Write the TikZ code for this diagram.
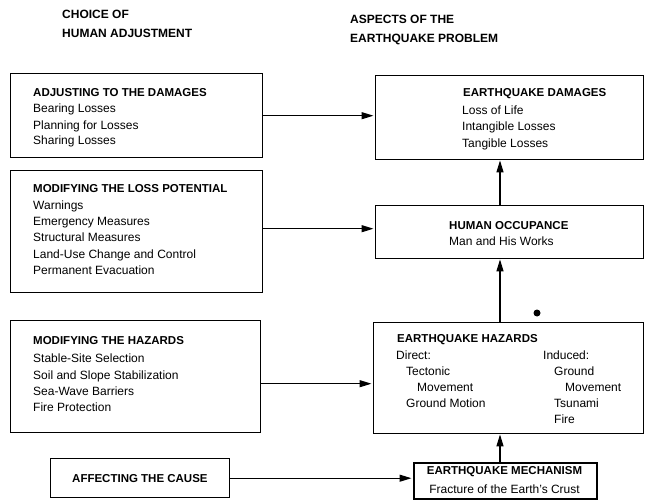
\documentclass[tikz,border=0pt]{standalone}
\usepackage{fontspec}
\setmainfont{Liberation Sans}
\usetikzlibrary{arrows.meta}
\begin{document}
\begin{tikzpicture}[x=1pt,y=-1pt,
 box/.style={draw, line width=1.4pt, anchor=north west, inner sep=0pt},
 ttl/.style={anchor=base west, inner sep=0pt, font=\fontsize{11.5}{13}\selectfont\bfseries},
 hdr/.style={anchor=base west, inner sep=0pt, font=\fontsize{12}{14}\selectfont\bfseries},
 txt/.style={anchor=base west, inner sep=0pt, font=\fontsize{12}{14}\selectfont},
 arr/.style={line width=1.2pt, -{Triangle[length=12pt,width=7pt]}, shorten >=1.5pt},
]
\useasboundingbox (0,0) rectangle (645,500);
% headers
\node[hdr] (h1) at (62,19) {CHOICE OF};
\node[hdr] (h2) at (62,38) {HUMAN ADJUSTMENT};
\node[hdr] (h3) at (350,24) {ASPECTS OF THE};
\node[hdr] (h4) at (350,43) {EARTHQUAKE PROBLEM};
% left boxes
\node[box, minimum width=252pt, minimum height=84pt] (A) at (10,73) {};
\node[ttl] (a0) at (33,97) {ADJUSTING TO THE DAMAGES};
\node[txt] (a1) at (33,113) {Bearing Losses};
\node[txt] (a2) at (33,129) {Planning for Losses};
\node[txt] (a3) at (33,145) {Sharing Losses};

\node[box, minimum width=252pt, minimum height=122pt] (B) at (10,170) {};
\node[ttl] (b0) at (33,192) {MODIFYING THE LOSS POTENTIAL};
\node[txt] (b1) at (33,209) {Warnings};
\node[txt] (b2) at (33,225) {Emergency Measures};
\node[txt] (b3) at (33,241) {Structural Measures};
\node[txt] (b4) at (33,258) {Land-Use Change and Control};
\node[txt] (b5) at (33,274) {Permanent Evacuation};

\node[box, minimum width=250pt, minimum height=112pt] (C) at (10,320) {};
\node[ttl] (c0) at (33,344) {MODIFYING THE HAZARDS};
\node[txt] (c1) at (33,362) {Stable-Site Selection};
\node[txt] (c2) at (33,379) {Soil and Slope Stabilization};
\node[txt] (c3) at (33,395) {Sea-Wave Barriers};
\node[txt] (c4) at (33,411) {Fire Protection};

\node[box, minimum width=179pt, minimum height=39pt] (D) at (50,458) {};
\node[ttl] (d0) at (72,482) {AFFECTING THE CAUSE};
% right boxes
\node[box, minimum width=268pt, minimum height=84pt] (E) at (375,75) {};
\node[ttl] (e0) at (463,97) {EARTHQUAKE DAMAGES};
\node[txt] (e1) at (462,115) {Loss of Life};
\node[txt] (e2) at (462,131) {Intangible Losses};
\node[txt] (e3) at (462,147) {Tangible Losses};

\node[box, minimum width=268pt, minimum height=53pt] (F) at (375,205) {};
\node[ttl] (f0) at (449,229) {HUMAN OCCUPANCE};
\node[txt] (f1) at (449,245) {Man and His Works};

\node[box, minimum width=270pt, minimum height=111pt] (G) at (373,322) {};
\node[ttl] (g0) at (397,342) {EARTHQUAKE HAZARDS};
\node[txt] (g1) at (396,359) {Direct:};
\node[txt] (g2) at (406,375) {Tectonic};
\node[txt] (g3) at (417,391) {Movement};
\node[txt] (g4) at (406,407) {Ground Motion};
\node[txt] (g5) at (543,359) {Induced:};
\node[txt] (g6) at (554,375) {Ground};
\node[txt] (g7) at (565,391) {Movement};
\node[txt] (g8) at (554,407) {Tsunami};
\node[txt] (g9) at (554,423) {Fire};

\node[box, line width=2pt, minimum width=183pt, minimum height=36pt] (H) at (413,462) {};
\node[ttl, anchor=base] (h0) at (504.5,474) {EARTHQUAKE MECHANISM};
\node[txt, anchor=base] (hh1) at (504.5,493) {Fracture of the Earth's Crust};

\fill (537,313) circle (3.5pt);
% connectors
\coordinate (vx) at (500,0);
\draw[arr] (A.east) -- (A.east -| E.west);
\draw[arr] ([yshift=3pt]B.east) -- ([yshift=3pt]B.east -| F.west);
\draw[arr] ([yshift=-7pt]C.east) -- ([yshift=-7pt]C.east -| G.west);
\draw[arr] (D.east) -- (D.east -| H.west);
\draw[arr, shorten >=0pt] (vx |- F.north) -- (vx |- E.south);
\draw[arr, shorten >=0pt] (vx |- G.north) -- (vx |- F.south);
\draw[arr, shorten >=0pt] (vx |- H.north) -- (vx |- G.south);
\end{tikzpicture}
\end{document}
